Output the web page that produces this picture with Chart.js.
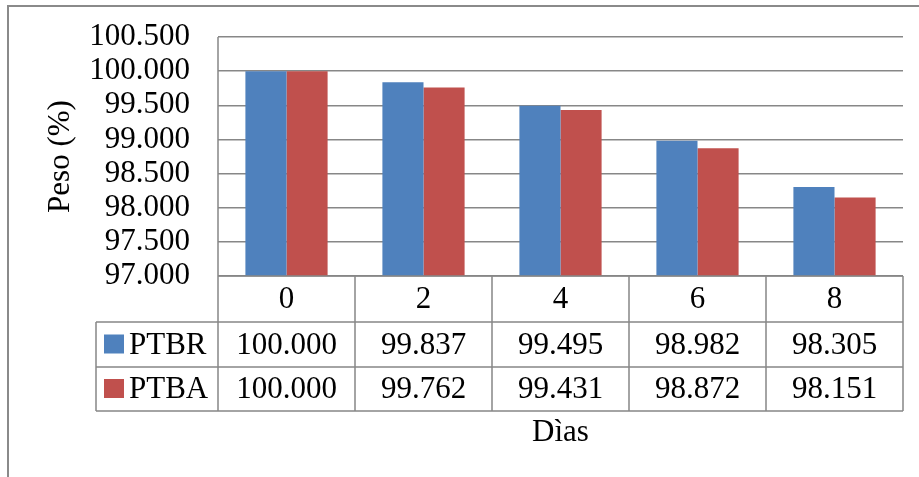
<!DOCTYPE html>
<html>
<head>
<meta charset="utf-8">
<script src="https://cdn.jsdelivr.net/npm/chart.js@4.4.1/dist/chart.umd.min.js"></script>
<style>
html,body{margin:0;padding:0;background:#fff;}
#wrap{width:919px;height:477px;position:relative;}
</style>
</head>
<body>
<div id="wrap"><canvas id="c" width="919" height="477"></canvas></div>
<script>
const categories = ['0', '2', '4', '6', '8'];
const seriesNames = ['PTBR', 'PTBA'];
const ptbr = [100.000, 99.837, 99.495, 98.982, 98.305];
const ptba = [100.000, 99.762, 99.431, 98.872, 98.151];
const yTicksMin = 97.0;
const yTicksMax = 100.5;
const yTickStep = 0.5;
const yTitle = 'Peso (%)';
const xTitle = 'Dìas';

const colors = ['#4F81BD', '#C0504D'];
const lineColor = '#878787';
const FONT = '"Liberation Serif", "Times New Roman", serif';
const FS = 31;

const tablePlugin = {
  id: 'dataTable',
  beforeDraw(chart) {
    const ctx = chart.ctx;
    ctx.save();
    ctx.fillStyle = '#fff';
    ctx.fillRect(0, 0, chart.width, chart.height);
    ctx.strokeStyle = '#8a8a8a';
    ctx.lineWidth = 2;
    ctx.beginPath();
    ctx.moveTo(8, chart.height);
    ctx.lineTo(8, 6);
    ctx.lineTo(chart.width, 6);
    ctx.stroke();
    ctx.restore();
  },
  afterDraw(chart) {
    const ctx = chart.ctx;
    const xs = chart.scales.x;
    const ca = chart.chartArea;
    const n = categories.length;
    const cw = (ca.right - ca.left) / n;
    const r0 = ca.bottom;
    const r1 = r0 + 46;
    const r2 = r1 + 45;
    const r3 = r2 + 44;
    const legLeft = 96;
    ctx.save();
    ctx.strokeStyle = lineColor;
    ctx.lineWidth = 1.5;
    ctx.beginPath();
    ctx.moveTo(ca.left, r0); ctx.lineTo(ca.right, r0);
    [r1, r2, r3].forEach(y => { ctx.moveTo(legLeft, y); ctx.lineTo(ca.right, y); });
    ctx.moveTo(legLeft, r1); ctx.lineTo(legLeft, r3);
    ctx.moveTo(ca.left, ca.top); ctx.lineTo(ca.left, r3);
    for (let i = 0; i < n; i++) {
      const xr = xs.getPixelForValue(i) + cw / 2;
      ctx.moveTo(xr, r0); ctx.lineTo(xr, r3);
    }
    ctx.stroke();

    const rows = [ptbr, ptba];
    const tops = [r1, r2];
    const bots = [r2, r3];
    ctx.font = FS + 'px ' + FONT;
    ctx.textBaseline = 'middle';
    rows.forEach((vals, ri) => {
      const cy = (tops[ri] + bots[ri]) / 2;
      ctx.textAlign = 'center';
      ctx.fillStyle = '#000';
      vals.forEach((v, i) => {
        ctx.fillText(v.toFixed(3), xs.getPixelForValue(i), cy + 1);
      });
      ctx.fillStyle = colors[ri];
      ctx.fillRect(104, cy - 10, 20, 19);
      ctx.fillStyle = '#000';
      ctx.textAlign = 'left';
      ctx.fillText(seriesNames[ri], 129, cy + 1);
    });
    ctx.restore();
  }
};

new Chart(document.getElementById('c'), {
  type: 'bar',
  data: {
    labels: categories,
    datasets: [
      { label: seriesNames[0], data: ptbr, backgroundColor: colors[0], barPercentage: 1, categoryPercentage: 0.6 },
      { label: seriesNames[1], data: ptba, backgroundColor: colors[1], barPercentage: 1, categoryPercentage: 0.6 }
    ]
  },
  options: {
    responsive: false,
    animation: false,
    devicePixelRatio: 1,
    layout: { padding: { left: 0, right: 16, top: 37, bottom: 0 } },
    plugins: { legend: { display: false }, tooltip: { enabled: false } },
    scales: {
      x: {
        grid: { display: false, drawTicks: false },
        border: { display: false },
        ticks: { color: '#000', font: { family: FONT, size: FS }, padding: 5 },
        title: { display: true, text: xTitle, color: '#000', font: { family: FONT, size: FS }, padding: { top: 0, bottom: 26 } },
        afterFit(s) { s.height = 201; s.paddingLeft = 0; s.paddingRight = 0; }
      },
      y: {
        min: yTicksMin,
        max: yTicksMax,
        grid: { color: lineColor, lineWidth: 1.5, drawTicks: false },
        border: { display: false },
        ticks: {
          stepSize: yTickStep,
          autoSkip: false,
          color: '#000',
          font: { family: FONT, size: FS },
          padding: 28,
          callback: v => Number(v).toFixed(3)
        },
        title: { display: true, text: yTitle, color: '#000', font: { family: FONT, size: FS }, padding: { top: 42, bottom: 0 } },
        afterFit(s) { s.width = 218; s.paddingTop = 0; s.paddingBottom = 0; }
      }
    }
  },
  plugins: [tablePlugin]
});
</script>
</body>
</html>
